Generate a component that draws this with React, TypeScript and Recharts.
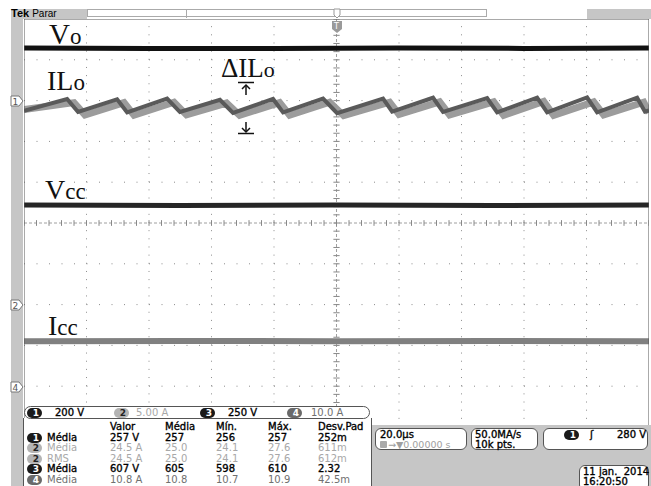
import React from 'react';
import { LineChart, Line, XAxis, YAxis, ReferenceLine } from 'recharts';

// horizontal: 20 µs/div, 10 div; vertical: divisions from screen centre
const timeDomain: [number, number] = [-100, 100];
const divDomain: [number, number] = [-5, 5];

const gridTimes = [-80, -60, -40, -20, 20, 40, 60, 80];
const gridDivs = [-4, -3, -2, -1, 1, 2, 3, 4];

// ch1 Vo
const voTrace = [
  { t: -100, v: 4.29 }, { t: -60, v: 4.28 }, { t: -20, v: 4.28 },
  { t: 20, v: 4.29 }, { t: 60, v: 4.28 }, { t: 100, v: 4.29 },
];

// ch2 ILo, two persistence passes
const iloDark = [
  { t: -100, v: 2.75 }, { t: -86.2, v: 3.04 }, { t: -82.7, v: 2.72 },
  { t: -70.2, v: 3.03 }, { t: -67.0, v: 2.71 }, { t: -54.2, v: 3.05 },
  { t: -50.1, v: 2.72 }, { t: -37.3, v: 3.02 }, { t: -33.1, v: 2.7 },
  { t: -20.3, v: 3.04 }, { t: -17.1, v: 2.71 }, { t: -4.3, v: 3.05 },
  { t: 0.2, v: 2.69 }, { t: 14.9, v: 3.05 }, { t: 17.8, v: 2.73 },
  { t: 30.9, v: 3.07 }, { t: 34.1, v: 2.72 }, { t: 48.2, v: 3.06 },
  { t: 51.4, v: 2.71 }, { t: 64.2, v: 3.07 }, { t: 67.4, v: 2.71 },
  { t: 80.2, v: 3.08 }, { t: 83.4, v: 2.71 }, { t: 96.2, v: 3.07 },
  { t: 98.7, v: 2.73 }, { t: 100, v: 2.76 },
];
const iloLight = [
  { t: -100, v: 2.78 }, { t: -84.0, v: 2.95 }, { t: -80.5, v: 2.65 },
  { t: -68.0, v: 2.95 }, { t: -64.8, v: 2.64 }, { t: -52.0, v: 2.96 },
  { t: -48.0, v: 2.65 }, { t: -35.2, v: 2.94 }, { t: -31.0, v: 2.64 },
  { t: -18.2, v: 2.95 }, { t: -15.0, v: 2.64 }, { t: -2.2, v: 2.96 },
  { t: 2.3, v: 2.63 }, { t: 17.0, v: 2.96 }, { t: 20.0, v: 2.66 },
  { t: 33.0, v: 2.97 }, { t: 36.2, v: 2.65 }, { t: 50.3, v: 2.97 },
  { t: 53.5, v: 2.64 }, { t: 66.3, v: 2.98 }, { t: 69.5, v: 2.64 },
  { t: 82.3, v: 2.97 }, { t: 85.5, v: 2.65 }, { t: 98.3, v: 2.96 },
  { t: 100, v: 2.7 },
];

// ch3 Vcc
const vccTrace = [
  { t: -100, v: 0.44 }, { t: -50, v: 0.43 }, { t: 0, v: 0.44 },
  { t: 50, v: 0.43 }, { t: 100, v: 0.44 },
];

// ch4 Icc
const iccTrace = [
  { t: -100, v: -2.9 }, { t: -50, v: -2.89 }, { t: 0, v: -2.9 },
  { t: 50, v: -2.89 }, { t: 100, v: -2.9 },
];

const channelScales = [
  { ch: '1', text: '200 V' },
  { ch: '2', text: '5.00 A' },
  { ch: '3', text: '250 V' },
  { ch: '4', text: '10.0 A' },
];

const measHeaders = ['Valor', 'Média', 'Mín.', 'Máx.', 'Desv.Pad'];
const measRows = [
  { ch: '1', name: 'Média', vals: ['257 V', '257', '256', '257', '252m'] },
  { ch: '2', name: 'Média', vals: ['24.5 A', '25.0', '24.1', '27.6', '611m'] },
  { ch: '2', name: 'RMS', vals: ['24.5 A', '25.0', '24.1', '27.6', '612m'] },
  { ch: '3', name: 'Média', vals: ['607 V', '605', '598', '610', '2.32'] },
  { ch: '4', name: 'Média', vals: ['10.8 A', '10.8', '10.7', '10.9', '42.5m'] },
];

const chStyle: Record<string, { bg: string; fg: string; text: string }> = {
  '1': { bg: '#1a1a1a', fg: '#fff', text: '#000' },
  '2': { bg: '#b4b4b4', fg: '#222', text: '#a8a8a8' },
  '3': { bg: '#1a1a1a', fg: '#fff', text: '#000' },
  '4': { bg: '#6a6a6a', fg: '#fff', text: '#707070' },
};

const minorTimes = Array.from({ length: 51 }, (_, i) => -100 + i * 4);
const minorDivs = Array.from({ length: 51 }, (_, i) => Math.round((-5 + i * 0.2) * 10) / 10);

const GRAY = '#c6c6c6';

function Badge({ ch, x, y }: { ch: string; x: number; y: number }) {
  const s = chStyle[ch];
  return (
    <div
      style={{
        position: 'absolute', left: x, top: y, width: 15, height: 10, borderRadius: 5,
        background: s.bg, color: s.fg, fontSize: 9, fontWeight: 'bold', lineHeight: '10px',
        textAlign: 'right', paddingRight: 3, boxSizing: 'border-box',
      }}
    >
      {ch}
    </div>
  );
}

function Txt({ x, y, color = '#000', children, heavy, size = 10 }: any) {
  return (
    <div
      style={{
        position: 'absolute', left: x, top: y, fontSize: size, lineHeight: '9.5px',
        color, whiteSpace: 'pre', WebkitTextStroke: heavy ? '0.35px ' + color : undefined,
      }}
    >
      {children}
    </div>
  );
}

const boxStyle = (x: number, y: number, w: number, h: number): React.CSSProperties => ({
  position: 'absolute', left: x, top: y, width: w, height: h, boxSizing: 'border-box',
  border: '1px solid #555', borderRadius: 6, background: '#fff',
});

const tableCols = [110, 165, 216, 268, 318];

export default function App() {
  return (
    <div
      style={{
        position: 'absolute', left: 0, top: 0, width: 651, height: 486, overflow: 'hidden',
        background: '#fff', fontFamily: '"DejaVu Sans", sans-serif',
      }}
    >
      {/* left strip and header */}
      <div style={{ position: 'absolute', left: 11, top: 9, width: 12, height: 477, background: GRAY }} />
      <div style={{ position: 'absolute', left: 11, top: 9, width: 76, height: 10, background: GRAY }} />
      <div style={{ position: 'absolute', left: 11, top: 8, fontSize: 11, lineHeight: '11px', fontFamily: '"Liberation Sans", sans-serif' }}>
        <b>Tek</b> <span style={{ fontSize: 10 }}>Parar</span>
      </div>
      <div style={{ position: 'absolute', left: 87, top: 9, width: 400, height: 8, border: '1px solid #aaa', boxSizing: 'border-box' }} />
      <div style={{ position: 'absolute', left: 186, top: 9, width: 1, height: 9, background: '#aaa' }} />
      <div style={{ position: 'absolute', left: 587, top: 9, width: 64, height: 10, background: GRAY }} />

      <div style={{ position: 'absolute', left: 24, top: 19 }}>
        <LineChart width={625} height={408} margin={{ top: 0, right: 0, bottom: 0, left: 0 }}>
          <XAxis
            dataKey="t" type="number" domain={timeDomain} ticks={minorTimes} interval={0}
            tick={false} tickSize={3} mirror orientation="bottom" allowDataOverflow
            axisLine={{ stroke: '#555' }} tickLine={{ stroke: '#666' }}
          />
          <XAxis
            xAxisId="top" dataKey="t" type="number" domain={timeDomain} ticks={minorTimes} interval={0}
            tick={false} tickSize={3} mirror orientation="top" allowDataOverflow
            axisLine={{ stroke: '#555' }} tickLine={{ stroke: '#666' }}
          />
          <YAxis
            type="number" domain={divDomain} ticks={minorDivs} interval={0}
            tick={false} tickSize={3} mirror orientation="left" allowDataOverflow
            axisLine={{ stroke: '#555' }} tickLine={{ stroke: '#666' }}
          />
          <YAxis
            yAxisId="right" type="number" domain={divDomain} ticks={minorDivs} interval={0}
            tick={false} tickSize={3} mirror orientation="right" allowDataOverflow
            axisLine={{ stroke: '#555' }} tickLine={{ stroke: '#666' }}
          />
          {gridTimes.map((t) => (
            <ReferenceLine key={'gx' + t} x={t} stroke="#8c8c8c" strokeDasharray="1 7.16" />
          ))}
          {gridDivs.map((d) => (
            <ReferenceLine key={'gy' + d} y={d} stroke="#8c8c8c" strokeDasharray="1 11.5" />
          ))}
          <ReferenceLine x={0} stroke="#a0a0a0" strokeDasharray="3 2" />
          <ReferenceLine y={0} stroke="#a0a0a0" strokeDasharray="3 2" />
          {minorTimes.map((t) => (
            <ReferenceLine key={'cx' + t} segment={[{ x: t, y: -0.07 }, { x: t, y: 0.07 }]} stroke="#888" />
          ))}
          {minorDivs.map((d) => (
            <ReferenceLine key={'cy' + d} segment={[{ x: -1, y: d }, { x: 1, y: d }]} stroke="#888" />
          ))}

          <Line data={voTrace} dataKey="v" type="linear" stroke="#111" strokeWidth={5} dot={false} isAnimationActive={false} />
          <Line data={iloLight} dataKey="v" type="linear" stroke="#9c9c9c" strokeWidth={7} dot={false} isAnimationActive={false} />
          <Line data={iloDark} dataKey="v" type="linear" stroke="#5a5a5a" strokeWidth={4} dot={false} isAnimationActive={false} />
          <Line data={vccTrace} dataKey="v" type="linear" stroke="#262626" strokeWidth={5} dot={false} isAnimationActive={false} />
          <Line data={iccTrace} dataKey="v" type="linear" stroke="#808080" strokeWidth={6} dot={false} isAnimationActive={false} />
        </LineChart>
      </div>

      {/* annotations */}
      <svg width={651} height={486} style={{ position: 'absolute', left: 0, top: 0, pointerEvents: 'none' }}>
        <g fontFamily='"Liberation Serif", serif' fill="#111">
          <text x={49} y={44} fontSize={29}>V<tspan fontSize={23}>o</tspan></text>
          <text x={47} y={90} fontSize={28}>IL<tspan fontSize={23}>o</tspan></text>
          <text x={221} y={77} fontSize={27}>ΔIL<tspan fontSize={22}>o</tspan></text>
          <text x={45} y={199} fontSize={28}>V<tspan fontSize={23}>cc</tspan></text>
          <text x={48} y={335} fontSize={28}>I<tspan fontSize={23}>cc</tspan></text>
        </g>
        <g stroke="#111" strokeWidth={1.5} fill="none">
          <line x1={238} y1={82.5} x2={254} y2={82.5} />
          <line x1={246} y1={85} x2={246} y2={95} />
          <polyline points="242,89 246,85 250,89" />
          <line x1={238} y1={133.5} x2={254} y2={133.5} />
          <line x1={246} y1={122} x2={246} y2={132} />
          <polyline points="242,128 246,132 250,128" />
        </g>
        {/* channel ground markers */}
        {[{ ch: '1', y: 101 }, { ch: '2', y: 305 }, { ch: '4', y: 387 }].map((m) => (
          <g key={m.ch}>
            <polygon
              points={`11,${m.y - 5} 19,${m.y - 5} 23,${m.y} 19,${m.y + 5} 11,${m.y + 5}`}
              fill="#fff" stroke="#777"
            />
            <text x={12.5} y={m.y + 3.5} fontSize={9} fill="#555" fontFamily='"DejaVu Sans", sans-serif'>{m.ch}</text>
          </g>
        ))}
        {/* trigger position marker */}
        <polygon points="332,21 342,21 342,29 337,33 332,29" fill="#9a9a9a" />
        <text x={334} y={29} fontSize={8} fill="#fff" fontFamily='"DejaVu Sans", sans-serif'>T</text>
        <polygon points="334,9 340,9 340,15 337,18 334,15" fill="#fff" stroke="#999" />
      </svg>

      {/* bottom readouts */}
      <div style={{ position: 'absolute', left: 369, top: 425, width: 282, height: 61, background: GRAY }} />
      <div style={{ position: 'absolute', left: 23, top: 418, width: 347, height: 68, background: '#fff', borderLeft: '1px solid #555', borderRight: '1px solid #555' }} />
      <div style={{ ...boxStyle(24, 406, 346, 13), borderRadius: 7 }} />
      {channelScales.map((c, i) => {
        const bx = [27, 114, 200, 287][i];
        const tx = [55, 136, 228, 311][i];
        return (
          <React.Fragment key={c.ch}>
            <Badge ch={c.ch} x={bx} y={407.5} />
            <Txt x={tx} y={408} color={chStyle[c.ch].text} heavy={c.ch === '1' || c.ch === '3'}>{c.text}</Txt>
          </React.Fragment>
        );
      })}
      {measHeaders.map((h, i) => (
        <Txt key={h} x={tableCols[i]} y={422} heavy>{h}</Txt>
      ))}
      {measRows.map((r, j) => {
        const y = 433 + j * 10.4;
        const s = chStyle[r.ch];
        const heavy = r.ch === '1' || r.ch === '3';
        return (
          <React.Fragment key={j}>
            <Badge ch={r.ch} x={27} y={y} />
            <Txt x={47} y={y} color={s.text} heavy={heavy}>{r.name}</Txt>
            {r.vals.map((v, i) => (
              <Txt key={i} x={tableCols[i]} y={y} color={s.text} heavy={heavy}>{v}</Txt>
            ))}
          </React.Fragment>
        );
      })}

      <div style={boxStyle(375, 428, 92, 22)} />
      <Txt x={380} y={429.5} heavy>20.0µs</Txt>
      <div style={{ position: 'absolute', left: 380, top: 441, width: 7, height: 7, background: '#aaa', borderRadius: 1 }} />
      <Txt x={388} y={440} color="#a0a0a0" size={9.5}>→▼0.00000 s</Txt>

      <div style={boxStyle(471, 428, 67, 22)} />
      <Txt x={475} y={429.5} heavy>50.0MA/s</Txt>
      <Txt x={475} y={440} heavy>10k pts.</Txt>

      <div style={boxStyle(543, 428, 105, 22)} />
      <Badge ch="1" x={564} y={430} />
      <Txt x={590} y={430} heavy>ʃ</Txt>
      <Txt x={617} y={430} heavy>280 V</Txt>

      <div style={boxStyle(579, 465, 70, 26)} />
      <Txt x={583} y={467} heavy>{'11 jan.  2014'}</Txt>
      <Txt x={583} y={477} heavy>16:20:50</Txt>
    </div>
  );
}
